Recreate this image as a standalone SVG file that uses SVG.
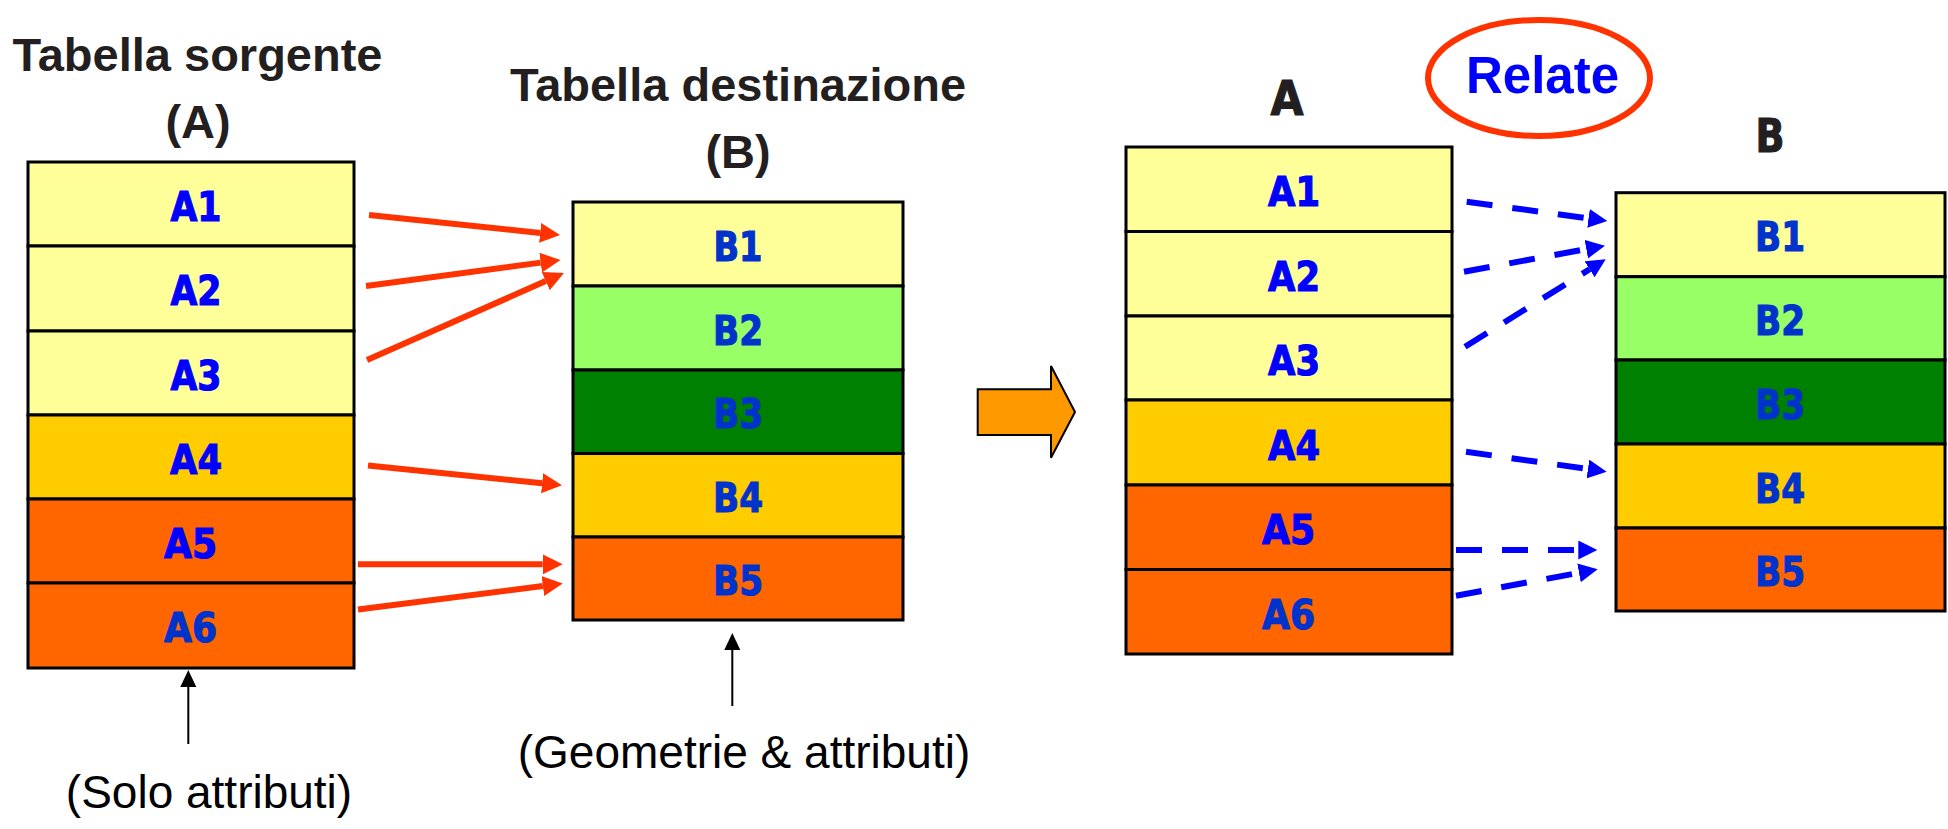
<svg xmlns="http://www.w3.org/2000/svg" width="1948" height="829" viewBox="0 0 1948 829">
  <style>
    .row { stroke: #000; stroke-width: 3; }
    .y1 { fill: #FFFF99; }
    .y2 { fill: #FFCC00; }
    .or { fill: #FF6600; }
    .lg { fill: #99FF66; }
    .dg { fill: #008000; }
    .title { font-family: "Liberation Sans", Arial, sans-serif; font-weight: bold; font-size: 47px; fill: #231F20; text-anchor: middle; }
    .hdr { font-family: "DejaVu Sans", Verdana, sans-serif; font-weight: bold; fill: #231F20; stroke: #231F20; stroke-width: 1.2; text-anchor: middle; }
    .lbl { font-family: "DejaVu Sans", Verdana, sans-serif; font-weight: bold; font-size: 41px; text-anchor: middle; stroke-width: 1.2; }
    .bl { fill: #0000FF; stroke: #0000FF; }
    .db { fill: #0033CC; stroke: #0033CC; }
    .note { font-family: "Liberation Sans", Arial, sans-serif; font-size: 46px; fill: #000; text-anchor: middle; }
    .red { stroke: #FF3300; stroke-width: 6; fill: none; marker-end: url(#head-red); }
    .dash { stroke: #0000FF; stroke-width: 6; fill: none; stroke-dasharray: 26 20; marker-end: url(#head-blue); }
    .thin { stroke: #000; stroke-width: 2; fill: none; marker-end: url(#head-black); }
  </style>
  <defs>
    <marker id="head-red" markerUnits="userSpaceOnUse" markerWidth="21" markerHeight="21" refX="0" refY="10" orient="auto">
      <path d="M0,0 L20,10 L0,20 z" fill="#FF3300"/>
    </marker>
    <marker id="head-blue" markerUnits="userSpaceOnUse" markerWidth="20" markerHeight="20" refX="0" refY="9.5" orient="auto">
      <path d="M0,0 L19,9.5 L0,19 z" fill="#0000FF"/>
    </marker>
    <marker id="head-black" markerUnits="userSpaceOnUse" markerWidth="18" markerHeight="18" refX="0" refY="8" orient="auto">
      <path d="M0,0 L17,8 L0,16 z" fill="#000"/>
    </marker>
  </defs>

  <rect width="1948" height="829" fill="#FFFFFF"/>

  <!-- source table A -->
  <g id="table-source">
    <text class="title" x="197.5" y="71">Tabella sorgente</text>
    <text class="title" x="198" y="138">(A)</text>
    <rect class="row y1" x="28" y="162" width="326" height="84"/>
    <rect class="row y1" x="28" y="246" width="326" height="85"/>
    <rect class="row y1" x="28" y="331" width="326" height="84"/>
    <rect class="row y2" x="28" y="415" width="326" height="84"/>
    <rect class="row or" x="28" y="499" width="326" height="84"/>
    <rect class="row or" x="28" y="583" width="326" height="85"/>
    <text class="lbl bl" x="196" y="220.5" textLength="51" lengthAdjust="spacingAndGlyphs">A1</text>
    <text class="lbl bl" x="196" y="305" textLength="51" lengthAdjust="spacingAndGlyphs">A2</text>
    <text class="lbl bl" x="196" y="389.5" textLength="51" lengthAdjust="spacingAndGlyphs">A3</text>
    <text class="lbl bl" x="196" y="473.5" textLength="52" lengthAdjust="spacingAndGlyphs">A4</text>
    <text class="lbl bl" x="190.5" y="557.5" textLength="53" lengthAdjust="spacingAndGlyphs">A5</text>
    <text class="lbl db" x="190.5" y="641.5" textLength="53" lengthAdjust="spacingAndGlyphs">A6</text>
    <text class="note" x="209" y="808">(Solo attributi)</text>
  </g>

  <!-- destination table B -->
  <g id="table-destination">
    <text class="title" x="738" y="101">Tabella destinazione</text>
    <text class="title" x="738" y="168">(B)</text>
    <rect class="row y1" x="573" y="202" width="330" height="84"/>
    <rect class="row lg" x="573" y="286" width="330" height="84"/>
    <rect class="row dg" x="573" y="370" width="330" height="83.5"/>
    <rect class="row y2" x="573" y="453.5" width="330" height="83.5"/>
    <rect class="row or" x="573" y="537" width="330" height="83"/>
    <text class="lbl db" x="738" y="260.5" textLength="49" lengthAdjust="spacingAndGlyphs">B1</text>
    <text class="lbl db" x="738" y="344.5" textLength="50" lengthAdjust="spacingAndGlyphs">B2</text>
    <text class="lbl db" x="738" y="428" textLength="50" lengthAdjust="spacingAndGlyphs">B3</text>
    <text class="lbl db" x="738" y="511.5" textLength="50" lengthAdjust="spacingAndGlyphs">B4</text>
    <text class="lbl db" x="738" y="595" textLength="50" lengthAdjust="spacingAndGlyphs">B5</text>
    <text class="note" x="744" y="768">(Geometrie &amp; attributi)</text>
  </g>

  <!-- block arrow between the two halves -->
  <g id="transition-arrow">
    <polygon points="977.7,389.3 1051,389.3 1051,366 1075,412 1051,457.7 1051,435 977.7,435" fill="#FF9900" stroke="#000" stroke-width="2" stroke-linejoin="miter"/>
  </g>

  <!-- Relate label -->
  <g id="relate-badge">
    <ellipse cx="1539" cy="78" rx="111" ry="58" fill="#FFFFFF" stroke="#FF3300" stroke-width="6"/>
    <text x="1542.5" y="93.3" font-family="Liberation Sans, Arial, sans-serif" font-weight="bold" font-size="51" fill="#0000FF" text-anchor="middle">Relate</text>
  </g>

  <!-- related table A -->
  <g id="table-related-a">
    <text class="hdr" x="1287" y="115" font-size="48" textLength="33" lengthAdjust="spacingAndGlyphs">A</text>
    <rect class="row y1" x="1126" y="147" width="326" height="84.5"/>
    <rect class="row y1" x="1126" y="231.5" width="326" height="84.5"/>
    <rect class="row y1" x="1126" y="316" width="326" height="84"/>
    <rect class="row y2" x="1126" y="400" width="326" height="85"/>
    <rect class="row or" x="1126" y="485" width="326" height="84.5"/>
    <rect class="row or" x="1126" y="569.5" width="326" height="84.5"/>
    <text class="lbl bl" x="1294" y="206" textLength="52" lengthAdjust="spacingAndGlyphs">A1</text>
    <text class="lbl bl" x="1294" y="291" textLength="52" lengthAdjust="spacingAndGlyphs">A2</text>
    <text class="lbl bl" x="1294" y="375" textLength="52" lengthAdjust="spacingAndGlyphs">A3</text>
    <text class="lbl bl" x="1294" y="459.5" textLength="52" lengthAdjust="spacingAndGlyphs">A4</text>
    <text class="lbl bl" x="1288.5" y="544" textLength="53" lengthAdjust="spacingAndGlyphs">A5</text>
    <text class="lbl db" x="1288.5" y="629" textLength="53" lengthAdjust="spacingAndGlyphs">A6</text>
  </g>

  <!-- related table B -->
  <g id="table-related-b">
    <text class="hdr" x="1770" y="151.7" font-size="46" textLength="29" lengthAdjust="spacingAndGlyphs">B</text>
    <rect class="row y1" x="1616" y="192.7" width="329" height="84"/>
    <rect class="row lg" x="1616" y="276.7" width="329" height="83.3"/>
    <rect class="row dg" x="1616" y="360" width="329" height="84"/>
    <rect class="row y2" x="1616" y="444" width="329" height="84"/>
    <rect class="row or" x="1616" y="528" width="329" height="83"/>
    <text class="lbl db" x="1780" y="251" textLength="50" lengthAdjust="spacingAndGlyphs">B1</text>
    <text class="lbl db" x="1780" y="335" textLength="50" lengthAdjust="spacingAndGlyphs">B2</text>
    <text class="lbl db" x="1780" y="418.5" textLength="50" lengthAdjust="spacingAndGlyphs">B3</text>
    <text class="lbl db" x="1780" y="502.5" textLength="50" lengthAdjust="spacingAndGlyphs">B4</text>
    <text class="lbl db" x="1780" y="586" textLength="50" lengthAdjust="spacingAndGlyphs">B5</text>
  </g>

  <!-- connectors -->
  <g id="connectors">
    <!-- join: source rows to destination rows -->
    <line class="red" x1="369" y1="215" x2="540.1" y2="232.9"/>
    <line class="red" x1="366" y1="286" x2="540.7" y2="262.65"/>
    <line class="red" x1="367" y1="360" x2="545.7" y2="281.1"/>
    <line class="red" x1="368" y1="465.5" x2="542.1" y2="483.3"/>
    <line class="red" x1="358" y1="564.3" x2="542.7" y2="564.3"/>
    <line class="red" x1="358" y1="609.5" x2="542.9" y2="586"/>
    <!-- pointers to the table notes -->
    <line class="thin" x1="188.3" y1="744" x2="188.3" y2="687"/>
    <line class="thin" x1="732.3" y1="706" x2="732.3" y2="650"/>
    <!-- relate: dashed links -->
    <line class="dash" x1="1466.7" y1="201.7" x2="1588.5" y2="218.4"/>
    <line class="dash" x1="1464" y1="271.7" x2="1586.3" y2="249.1"/>
    <line class="dash" x1="1465" y1="346.7" x2="1589.6" y2="269.3"/>
    <line class="dash" x1="1466" y1="451.7" x2="1587.9" y2="469"/>
    <line class="dash" x1="1456" y1="550" x2="1578.3" y2="550"/>
    <line class="dash" x1="1456" y1="595.7" x2="1579" y2="572.8"/>
  </g>
</svg>
